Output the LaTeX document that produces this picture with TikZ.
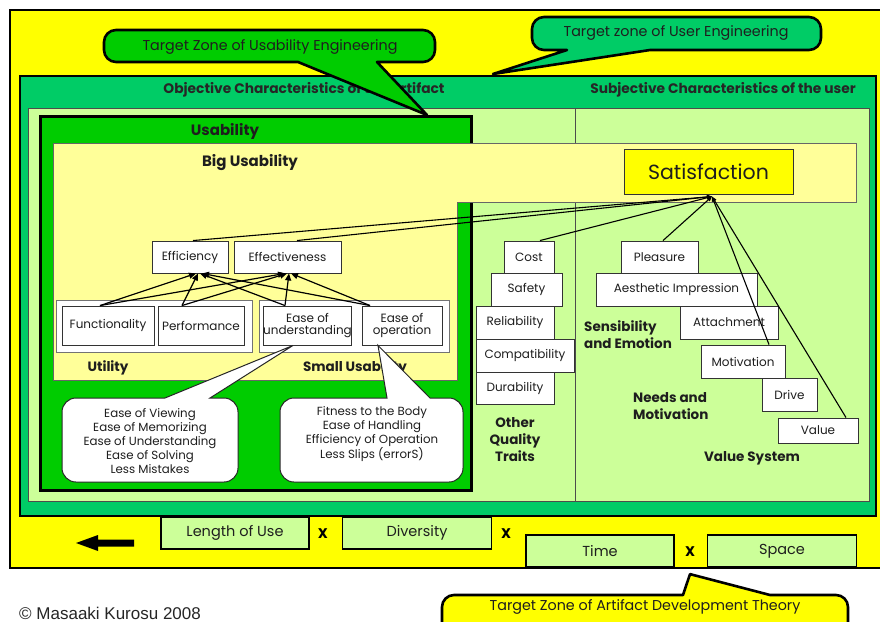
\documentclass[tikz,border=0pt]{standalone}
\usepackage{fontspec}
\setmainfont{Poppins}
\newfontfamily\arialf{Liberation Sans}
\usetikzlibrary{arrows.meta,calc}
\definecolor{cyel}{HTML}{FFFF00}
\definecolor{cteal}{HTML}{00CC66}
\definecolor{clgreen}{HTML}{CCFF99}
\definecolor{cdgreen}{HTML}{00CC00}
\definecolor{clyel}{HTML}{FFFF99}
\definecolor{ctxt}{HTML}{1E1E1E}
\tikzset{
  wbox/.style={draw=black!80, fill=white, line width=0.9pt, inner sep=0pt, text=ctxt, align=center, font=\fontsize{12}{12.5}\selectfont},
  grpbox/.style={draw=black!55, fill=white, line width=0.8pt, inner sep=0pt},
  lbl/.style={inner sep=0pt, text=ctxt, font=\bfseries\fontsize{13.5}{17}\selectfont, align=left},
  arr/.style={line width=1.2pt, -{Triangle[length=7pt,width=6pt]}},
  sline/.style={line width=1.1pt, -{Triangle[length=5pt,width=4pt]}},
  gbox/.style={draw=black, fill=clgreen, line width=1.4pt, inner sep=0pt, text=ctxt, font=\fontsize{14.5}{16}\selectfont},
  calloutw/.style={draw=black!85, fill=white, line width=1pt},
  calloutb/.style={draw=black, line width=2.6pt, line join=round},
  ctext/.style={inner sep=0pt, text=ctxt, align=center, font=\fontsize{11.8}{14}\selectfont},
  ctitle/.style={inner sep=0pt, text=ctxt, font=\fontsize{14.3}{16}\selectfont},
  xmark/.style={inner sep=0pt, font=\bfseries\fontsize{14}{16}\selectfont}
}
\begin{document}
\begin{tikzpicture}[x=1pt,y=-1pt]
\useasboundingbox (0,0) rectangle (880,621);
\fill[white] (0,0) rectangle (880,621);
% outer zones
\draw[fill=cyel, line width=2pt] (10,10) rectangle (885,568);
\draw[fill=cteal, line width=2.5pt] (20,76) rectangle (876,516);
\node[inner sep=0pt, text=black!85, font=\bfseries\fontsize{13.8}{15}\selectfont] (objtxt) at (304,90) {Objective Characteristics of the Artifact};
\node[inner sep=0pt, text=black!85, font=\bfseries\fontsize{13.8}{15}\selectfont] (subjtxt) at (723,90) {Subjective Characteristics of the user};
\draw[fill=clgreen, draw=black!70, line width=0.8pt] (28,108) rectangle (869,501);
\draw[draw=black!70, line width=0.8pt] (575,108) -- (575,501);
% usability
\draw[fill=cdgreen, line width=3pt] (40,116) rectangle (471,490);
\node[lbl, font=\bfseries\fontsize{15}{17}\selectfont] (usab) at (225,131) {Usability};
\draw[fill=clyel, draw=black!60, line width=0.8pt] (53,143) -- (856,143) -- (856,202) -- (457,202) -- (457,380) -- (53,380) -- cycle;
\node[lbl, font=\bfseries\fontsize{15}{17}\selectfont] (bigusab) at (250,163) {Big Usability};
\node[draw=black!80, fill=cyel, line width=1pt, minimum width=169pt, minimum height=45pt, inner sep=0pt, text=ctxt, font=\fontsize{20.5}{22}\selectfont] (sat) at (708.5,171.5) {Satisfaction};
% usability boxes
\node[wbox, minimum width=76pt, minimum height=32pt] (eff) at (190,257) {Efficiency};
\node[wbox, minimum width=107pt, minimum height=32pt] (effv) at (287.5,257) {Effectiveness};
\node[grpbox, minimum width=196pt, minimum height=52pt] (utilgrp) at (154,326) {};
\node[grpbox, minimum width=190pt, minimum height=52pt] (smallgrp) at (354,326) {};
\node[wbox, minimum width=92pt, minimum height=39pt] (func) at (108,325.5) {Functionality};
\node[wbox, minimum width=86pt, minimum height=39pt] (perf) at (201,325.5) {Performance};
\node[wbox, minimum width=83pt, minimum height=39pt] (eou) at (307.5,325.5) {Ease of\\understanding};
\node[wbox, minimum width=80pt, minimum height=39pt] (eoo) at (402,325.5) {Ease of\\operation};
\node[lbl] (utillbl) at (108,368) {Utility};
\node[lbl] (smalllbl) at (355,368) {Small Usability};
% other quality traits
\node[wbox, minimum width=50pt, minimum height=32pt] (cost) at (529,257) {Cost};
\node[wbox, minimum width=71pt, minimum height=33pt] (safety) at (526.5,289.5) {Safety};
\node[wbox, minimum width=78pt, minimum height=33pt] (relia) at (515,322.5) {Reliability};
\node[wbox, minimum width=98pt, minimum height=33pt] (compat) at (525,355.5) {Compatibility};
\node[wbox, minimum width=78pt, minimum height=32pt] (durab) at (515,388) {Durability};
\node[lbl, align=center, font=\bfseries\fontsize{13.5}{17}\selectfont] (oqt) at (515,440) {Other\\Quality\\Traits};
% user side
\node[wbox, minimum width=77pt, minimum height=32pt] (pleas) at (659.5,257) {Pleasure};
\node[wbox, minimum width=161pt, minimum height=33pt] (aesth) at (676.5,289.5) {Aesthetic Impression};
\node[wbox, minimum width=98pt, minimum height=33pt] (attach) at (729,322.5) {Attachment};
\node[wbox, minimum width=84pt, minimum height=33pt] (motiv) at (743,361.5) {Motivation};
\node[wbox, minimum width=55pt, minimum height=33pt] (drive) at (789.5,394.5) {Drive};
\node[wbox, minimum width=80pt, minimum height=25pt] (value) at (818,430.5) {Value};
\node[lbl, anchor=west] (sens) at (584,334.5) {Sensibility\\and Emotion};
\node[lbl, anchor=west] (needs) at (633,406) {Needs and\\Motivation};
\node[lbl] (valsys) at (752,458) {Value System};
% connectors
\coordinate (satp) at ([xshift=3.5pt,yshift=-2pt]sat.south);
\draw[sline] ([xshift=3pt]eff.north) -- (satp);
\draw[sline] ([xshift=9.5pt]effv.north) -- (satp);
\draw[sline] ([xshift=11pt]cost.north) -- (satp);
\draw[sline] ([xshift=3.5pt]pleas.north) -- (satp);
\draw[sline] ([xshift=26pt]motiv.north) -- (satp);
\draw[sline] ([xshift=28pt]value.north) -- (satp);
\draw[arr] ([xshift=-8pt]func.north) -- ([xshift=6pt]eff.south);
\draw[arr] ([xshift=-8pt]func.north) -- ([xshift=-2.5pt]effv.south);
\draw[arr] ([xshift=-19pt]perf.north) -- ([xshift=8pt]eff.south);
\draw[arr] ([xshift=-19pt]perf.north) -- ([xshift=-0.5pt]effv.south);
\draw[arr] ([xshift=-22.5pt]eou.north) -- ([xshift=10pt]eff.south);
\draw[arr] ([xshift=-22.5pt]eou.north) -- ([xshift=1.5pt]effv.south);
\draw[arr] ([xshift=-32pt]eoo.north) -- ([xshift=12pt]eff.south);
\draw[arr] ([xshift=-32pt]eoo.north) -- ([xshift=3.5pt]effv.south);
% white callouts
\coordinate (tipA) at ([xshift=-14.5pt]eou.south);
\coordinate (tipB) at ([xshift=-24pt]eoo.south);
\draw[calloutw, rounded corners=14pt] (62,440) -- (62,398) -- (140,398) [sharp corners] -- (165,398) -- (tipA) -- (210,398) -- (215,398) [rounded corners=14pt] -- (238,398) -- (238,482) -- (62,482) -- cycle;
\draw[calloutw, rounded corners=14pt] (280,440) -- (280,398) -- (360,398) [sharp corners] -- (387,398) -- (tipB) -- (430,398) -- (438,398) [rounded corners=14pt] -- (463,398) -- (463,482) -- (280,482) -- cycle;
\node[ctext] (viewtxt) at (150,441) {Ease of Viewing\\Ease of Memorizing\\Ease of Understanding\\Ease of Solving\\Less Mistakes};
\node[ctext] (fittxt) at (372,434) {Fitness to the Body\\Ease of Handling\\Efficiency of Operation\\Less Slips (errorS)};
% top callouts
\coordinate (tipUE) at (427,115);
\draw[calloutb, fill=cdgreen, rounded corners=12pt] (270,30) -- (435,30) -- (435,62) -- (400,62) [sharp corners] -- (377,62) -- (tipUE) -- (298,62) -- (250,62) [rounded corners=12pt] -- (104,62) -- (104,30) -- (200,30) -- cycle;
\node[ctitle] (ueng) at (270,47) {Target Zone of Usability Engineering};
\coordinate (tipUser) at (493,74);
\draw[calloutb, fill=cteal, rounded corners=12pt] (676,17) -- (821,17) -- (821,50) -- (700,50) [sharp corners] -- (650,50) -- (tipUser) -- (567,50) -- (550,50) [rounded corners=12pt] -- (532,50) -- (532,17) -- (600,17) -- cycle;
\node[ctitle] (useng) at (676,33) {Target zone of User Engineering};
% bottom
\node[gbox, minimum width=148pt, minimum height=32pt] (lenuse) at (235,533) {Length of Use};
\node[xmark] (x1) at (323,534) {X};
\node[gbox, minimum width=149pt, minimum height=32pt] (divers) at (417,533) {Diversity};
\node[xmark] (x2) at (506,534) {X};
\node[gbox, minimum width=148pt, minimum height=32pt] (time) at (600,551) {Time};
\node[xmark] (x3) at (690,552) {X};
\node[gbox, minimum width=149pt, minimum height=32pt] (space) at (782,551) {Space};
\fill[black] (76,543) -- (98,535) -- (98,539.5) -- (134,539.5) -- (134,546.5) -- (98,546.5) -- (98,551) -- cycle;
\coordinate (tipADT) at ([yshift=-17pt]x3.south);
\draw[calloutb, fill=cyel, rounded corners=12pt] (600,640) -- (442,640) -- (442,595) -- (660,595) [sharp corners] -- (683,595) -- (tipADT) -- (770,595) -- (800,595) [rounded corners=12pt] -- (848,595) -- (848,640) -- cycle;
\node[ctitle] (adt) at (645,607) {Target Zone of Artifact Development Theory};
\node[inner sep=0pt, anchor=west, text=black!85, font=\arialf\fontsize{17}{19}\selectfont] (copy) at (19,613) {© Masaaki Kurosu 2008};
\end{tikzpicture}
\end{document}
